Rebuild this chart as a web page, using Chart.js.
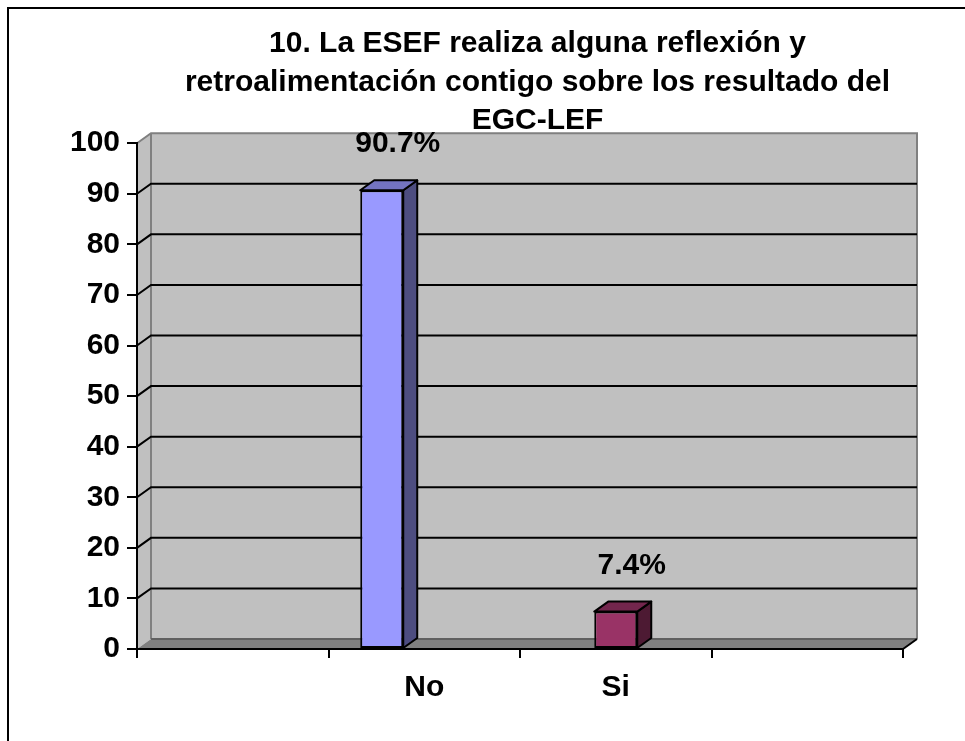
<!DOCTYPE html>
<html>
<head>
<meta charset="utf-8">
<script src="https://cdn.jsdelivr.net/npm/chart.js@4.4.1/dist/chart.umd.min.js"></script>
<style>
  html, body { margin: 0; padding: 0; background: #fff; }
</style>
</head>
<body>
<canvas id="chart" width="965" height="741"></canvas>
<script>
// DATA
const categories = ["", "No", "Si", ""];
const noValues = [null, 90.7, null, null];
const siValues = [null, 0, 7.4, null];
const yTicks = [0, 10, 20, 30, 40, 50, 60, 70, 80, 90, 100];
const titleLines = [
  "10. La ESEF realiza alguna reflexión y",
  "retroalimentación contigo sobre los resultado del",
  "EGC-LEF"
];

const FONT = "'Liberation Sans', Arial, sans-serif";
const depth = { x: 14, y: -10 };

function poly(ctx, pts) {
  ctx.beginPath();
  ctx.moveTo(pts[0][0], pts[0][1]);
  for (let i = 1; i < pts.length; i++) ctx.lineTo(pts[i][0], pts[i][1]);
  ctx.closePath();
}

// walls, floor and gridlines (drawn before the axes and bars)
const wallsPlugin = {
  id: "walls",
  beforeDraw(chart) {
    const { ctx, chartArea: a } = chart;
    const yScale = chart.scales.y;
    const dx = depth.x, dy = depth.y;
    ctx.save();
    ctx.fillStyle = "#fff";
    ctx.fillRect(0, 0, chart.width, chart.height);

    // outer frame
    ctx.strokeStyle = "#000";
    ctx.lineWidth = 2;
    ctx.strokeRect(8, 8, chart.width, chart.height);

    // back wall
    ctx.fillStyle = "#c0c0c0";
    ctx.fillRect(a.left + dx, a.top + dy, a.right - a.left, a.bottom - a.top);
    // side wall
    poly(ctx, [[a.left, a.top], [a.left + dx, a.top + dy], [a.left + dx, a.bottom + dy], [a.left, a.bottom]]);
    ctx.fill();
    // floor
    ctx.fillStyle = "#808080";
    poly(ctx, [[a.left, a.bottom], [a.left + dx, a.bottom + dy], [a.right + dx, a.bottom + dy], [a.right, a.bottom]]);
    ctx.fill();

    // wall edges
    ctx.strokeStyle = "#808080";
    ctx.lineWidth = 2;
    ctx.beginPath();
    ctx.moveTo(a.left, a.top);
    ctx.lineTo(a.left + dx, a.top + dy);
    ctx.lineTo(a.right + dx, a.top + dy);
    ctx.lineTo(a.right + dx, a.bottom + dy);
    ctx.moveTo(a.left + dx, a.top + dy);
    ctx.lineTo(a.left + dx, a.bottom + dy);
    ctx.stroke();
    ctx.strokeStyle = "#606060";
    ctx.beginPath();
    ctx.moveTo(a.left + dx, a.bottom + dy);
    ctx.lineTo(a.right + dx, a.bottom + dy);
    ctx.stroke();

    // gridlines on the back wall
    ctx.strokeStyle = "#000";
    ctx.lineWidth = 2;
    yTicks.forEach(v => {
      if (v === 0 || v === 100) return;
      const py = yScale.getPixelForValue(v);
      ctx.beginPath();
      ctx.moveTo(a.left, py);
      ctx.lineTo(a.left + dx, py + dy);
      ctx.lineTo(a.right + dx, py + dy);
      ctx.stroke();
    });

    // floor front edge, right end
    ctx.beginPath();
    ctx.moveTo(a.right, a.bottom);
    ctx.lineTo(a.right + dx, a.bottom + dy);
    ctx.stroke();
    ctx.restore();
  }
};

// side + top faces of the bars and value labels
const boxPlugin = {
  id: "boxes",
  afterDatasetsDraw(chart) {
    const ctx = chart.ctx;
    const dx = depth.x, dy = depth.y;
    ctx.save();
    chart.data.datasets.forEach((ds, i) => {
      const meta = chart.getDatasetMeta(i);
      meta.data.forEach((bar, j) => {
        const v = ds.data[j];
        if (!v) return;
        const p = bar.getProps(["x", "y", "base", "width"], true);
        const l = p.x - p.width / 2, r = p.x + p.width / 2;
        ctx.lineWidth = 2;
        ctx.strokeStyle = "#000";
        ctx.lineJoin = "round";
        // side
        ctx.fillStyle = ds.sideColor;
        poly(ctx, [[r, p.y], [r + dx, p.y + dy], [r + dx, p.base + dy], [r, p.base]]);
        ctx.fill();
        ctx.stroke();
        // top
        ctx.fillStyle = ds.topColor;
        poly(ctx, [[l, p.y], [l + dx, p.y + dy], [r + dx, p.y + dy], [r, p.y]]);
        ctx.fill();
        ctx.stroke();
        // label
        ctx.fillStyle = "#000";
        ctx.font = "bold 30px " + FONT;
        ctx.textAlign = "center";
        ctx.textBaseline = "alphabetic";
        ctx.fillText(v.toFixed(1) + "%", p.x + 16, p.y - 38);
      });
    });
    ctx.restore();
  }
};

new Chart(document.getElementById("chart"), {
  type: "bar",
  data: {
    labels: categories,
    datasets: [
      {
        label: "No",
        data: noValues,
        backgroundColor: "#9999ff",
        sideColor: "#4d4d80",
        topColor: "#7373c0",
        borderColor: "#000",
        borderWidth: 2,
        borderSkipped: false
      },
      {
        label: "Si",
        data: siValues,
        backgroundColor: "#993366",
        sideColor: "#4d1a33",
        topColor: "#73264d",
        borderColor: "#000",
        borderWidth: 2,
        borderSkipped: false
      }
    ]
  },
  options: {
    responsive: false,
    animation: false,
    skipNull: true,
    categoryPercentage: 0.888,
    barPercentage: 0.9,
    maxBarThickness: 43,
    // negative right padding pushes the title centre over the back wall
    layout: { padding: { left: 0, right: -110, top: 0, bottom: 0 } },
    plugins: {
      legend: { display: false },
      tooltip: { enabled: false },
      title: {
        display: true,
        text: titleLines,
        color: "#000",
        font: { family: FONT, size: 30, weight: "bold", lineHeight: 1.28 },
        padding: { top: 25, bottom: 3 }
      }
    },
    scales: {
      x: {
        grid: { offset: true, drawOnChartArea: false, drawTicks: true, tickLength: 9, color: "#000", lineWidth: 2 },
        border: { display: true, color: "#000", width: 2 },
        ticks: { color: "#000", font: { family: FONT, size: 30, weight: "bold" }, padding: 12, maxRotation: 0, autoSkip: false },
        afterFit: s => { s.height = 92; }
      },
      y: {
        min: 0,
        max: 100,
        grid: { drawOnChartArea: false, drawTicks: true, tickLength: 10, color: "#000", lineWidth: 2 },
        border: { display: true, color: "#000", width: 2 },
        ticks: { stepSize: 10, color: "#000", font: { family: FONT, size: 30, weight: "bold" }, padding: 7 },
        afterFit: s => { s.width = 137; }
      },
      yRight: {
        position: "right",
        min: 0,
        max: 100,
        grid: { display: false },
        border: { display: false },
        ticks: { display: false },
        afterFit: s => { s.width = 172; }
      }
    }
  },
  plugins: [wallsPlugin, boxPlugin]
});
</script>
</body>
</html>
